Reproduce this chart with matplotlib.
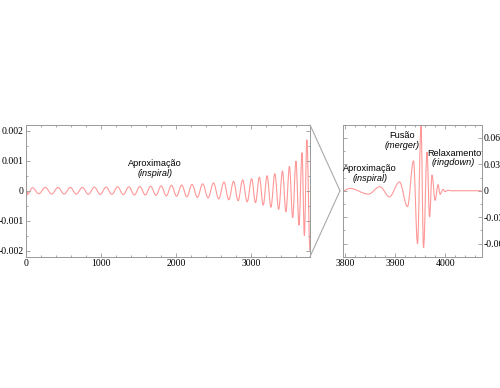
import matplotlib
matplotlib.use("Agg")
import matplotlib.pyplot as plt
from matplotlib.ticker import MultipleLocator, FuncFormatter
from matplotlib.patches import ConnectionPatch, PathPatch
from matplotlib.path import Path

# ------------------ dados ------------------
# painel esquerdo: extremos da onda (tempo, amplitude)
t_esq = [0, 8, 14, 20, 28, 85, 171, 257, 342, 427, 509, 591, 671, 752, 832, 912,
         990, 1068, 1145, 1222, 1297, 1372, 1445, 1518, 1590, 1662, 1732, 1802,
         1871, 1940, 2008, 2076, 2145, 2214, 2285, 2356, 2428, 2500, 2570, 2640,
         2704, 2768, 2828, 2889, 2949, 3009, 3060, 3112, 3163, 3215, 3266, 3318,
         3369, 3420, 3466, 3513, 3556, 3600, 3640, 3681, 3712, 3745, 3787]
h_esq = [0.0009, 0.0, -0.00015, -0.00005, -0.0001, 0.0001, -0.0001, 0.00011,
         -0.00011, 0.00011, -0.00011, 0.00011, -0.00011, 0.00011, -0.00012,
         0.00012, -0.00012, 0.00012, -0.00012, 0.00013, -0.00013, 0.00013,
         -0.00014, 0.00014, -0.00014, 0.00015, -0.00015, 0.00016, -0.00017,
         0.00018, -0.00018, 0.00019, -0.0002, 0.00021, -0.00022, 0.00023,
         -0.00024, 0.00026, -0.00027, 0.00029, -0.0003, 0.00031, -0.00033,
         0.00036, -0.00037, 0.0004, -0.0004, 0.00045, -0.00048, 0.0005,
         -0.00055, 0.00057, -0.00062, 0.00066, -0.0007, 0.00081, -0.0009,
         0.00099, -0.00115, 0.00127, -0.0015, 0.0017, -0.002]

# painel direito: fusão e relaxamento (extremos)
t_dir = [3797, 3810, 3847, 3870, 3889, 3909, 3925, 3937, 3945, 3952, 3957,
         3964, 3969, 3974, 3980, 3986, 3990, 3996, 4000, 4006, 4012, 4073]
h_dir = [0.0, 0.0027, -0.0038, 0.0046, -0.0069, 0.010, -0.018, 0.034, -0.060,
         0.0737, -0.065, 0.044, -0.030, 0.018, -0.011, 0.0069, -0.004, 0.0015,
         -0.001, 0.0005, 0.0, 0.0]

cor_onda = "#ff9898"
cor_eixo = "#999999"

plt.rcParams["axes.unicode_minus"] = False


def curva_suave(ax, t, h, **kw):
    # liga os extremos com curvas de Bezier (tangente horizontal em cada extremo)
    verts = [(t[0], h[0])]
    codes = [Path.MOVETO]
    for i in range(1, len(t)):
        dt = (t[i] - t[i - 1]) * 0.36
        verts += [(t[i - 1] + dt, h[i - 1]), (t[i] - dt, h[i]), (t[i], h[i])]
        codes += [Path.CURVE4] * 3
    ax.add_patch(PathPatch(Path(verts, codes), fill=False, **kw))


fig = plt.figure(figsize=(5, 3.88), dpi=100)
axL = fig.add_axes([0.052, 0.3384, 0.568, 0.340])
axR = fig.add_axes([0.6866, 0.3384, 0.2768, 0.340])

curva_suave(axL, t_esq, h_esq, edgecolor=cor_onda, lw=0.8)
curva_suave(axR, t_dir, h_dir, edgecolor=cor_onda, lw=0.8)

axL.set_xlim(0, 3787)
axL.set_ylim(-0.0022, 0.0022)
axR.set_xlim(3797, 4073)
axR.set_ylim(-0.075, 0.075)

fmt = FuncFormatter(lambda v, p: "%g" % round(v, 6))

# ------------------ estilo dos eixos ------------------
for ax in (axL, axR):
    for s in ax.spines.values():
        s.set_color(cor_eixo)
        s.set_linewidth(0.7)
    ax.tick_params(which="both", direction="in", top=True, bottom=True,
                   left=True, right=True, color=cor_eixo, width=0.6)
    ax.tick_params(which="major", length=3, pad=1.5)
    ax.tick_params(which="minor", length=1.5)
    ax.yaxis.set_major_formatter(fmt)

axL.xaxis.set_major_locator(MultipleLocator(1000))
axL.xaxis.set_minor_locator(MultipleLocator(200))
axL.yaxis.set_major_locator(MultipleLocator(0.001))
axL.yaxis.set_minor_locator(MultipleLocator(0.0005))

axR.xaxis.set_major_locator(MultipleLocator(100))
axR.xaxis.set_minor_locator(MultipleLocator(20))
axR.yaxis.set_major_locator(MultipleLocator(0.03))
axR.yaxis.set_minor_locator(MultipleLocator(0.015))
axR.tick_params(which="both", labelleft=False, labelright=True)

for ax in (axL, axR):
    for lab in ax.get_xticklabels() + ax.get_yticklabels():
        lab.set_fontfamily("Liberation Serif")
        lab.set_fontsize(7)

# ------------------ textos ------------------
fonte = "Liberation Sans"
tam = 6.6
axL.text(1720, 0.00092, "Aproximação", ha="center", va="center", family=fonte, fontsize=tam)
axL.text(1720, 0.00058, "(inspiral)", ha="center", va="center", family=fonte, fontsize=tam, style="italic")
axR.text(3850, 0.0248, "Aproximação", ha="center", va="center", family=fonte, fontsize=tam)
axR.text(3850, 0.0134, "(inspiral)", ha="center", va="center", family=fonte, fontsize=tam, style="italic")
axR.text(3914, 0.063, "Fusão", ha="center", va="center", family=fonte, fontsize=tam)
axR.text(3914, 0.0515, "(merger)", ha="center", va="center", family=fonte, fontsize=tam, style="italic")
axR.text(4018, 0.0427, "Relaxamento", ha="center", va="center", family=fonte, fontsize=tam)
axR.text(4017, 0.0317, "(ringdown)", ha="center", va="center", family=fonte, fontsize=tam, style="italic")

# ------------------ linhas de ligação ------------------
for yA in (1, 0):
    con = ConnectionPatch(xyA=(1, yA), coordsA=axL.transAxes,
                          xyB=(-0.024, 0.5), coordsB=axR.transAxes,
                          color="#aaaaaa", lw=0.8)
    fig.add_artist(con)

fig.savefig("out.png", dpi=100)
